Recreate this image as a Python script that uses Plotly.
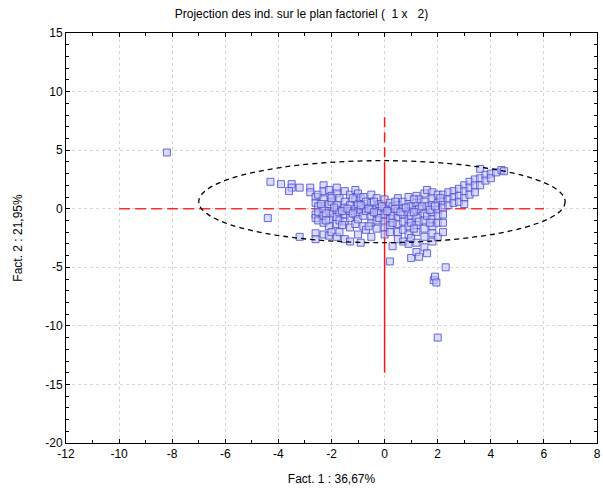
import plotly.graph_objects as go

# ---- data ----
pts = [
    (-8.2, 4.8), (-4.4, -0.8), (-4.3, 2.3), (-3.9, 2.1), (-3.5, 2.1), (-3.5, 1.8),
    (-3.6, 1.5), (-3.2, 1.8), (-3.2, -2.4), (-2.8, 1.8), (-2.8, 1.4),
    (-2.6, 1.0), (-2.6, 0.5), (-2.6, -0.5), (-2.6, -0.8), (-2.6, -2.1), (-2.6, -2.6),
    (-2.5, 0.2), (-2.5, -0.3), (-2.5, 1.2), (-2.5, -1.0),
    (-2.3, 2.0), (-2.3, 1.5), (-2.3, 0.8), (-2.3, 0.0), (-2.3, -0.6), (-2.3, -1.2), (-2.3, -2.2),
    (-2.1, 1.6), (-2.1, 0.4), (-2.1, -0.2), (-2.1, -0.9), (-2.1, -1.5), (-2.1, -2.3),
    (-2.0, 1.1), (-2.0, 0.6), (-2.0, -0.4), (-2.0, -2.0),
    (-1.8, 1.8), (-1.8, 1.3), (-1.8, 0.3), (-1.8, -0.1), (-1.8, -0.7), (-1.8, -1.3), (-1.8, -2.4),
    (-1.7, 0.9), (-1.7, -0.3), (-1.7, -2.0), (-1.7, -1.0),
    (-1.5, 1.5), (-1.5, 0.6), (-1.5, 0.1), (-1.5, -0.5), (-1.5, -1.1), (-1.5, -2.6),
    (-1.3, 1.2), (-1.3, 0.3), (-1.3, -0.2), (-1.3, -0.8), (-1.3, -1.6), (-1.3, -2.8),
    (-1.1, 1.6), (-1.1, 0.8), (-1.1, 0.0), (-1.1, -0.5), (-1.1, -1.3),
    (-1.0, 1.3), (-1.0, 0.4), (-1.0, -0.3), (-1.0, -0.9), (-1.0, -2.2),
    (-0.9, -2.9), (-0.9, 0.9), (-0.9, -0.1),
    (-0.8, 1.0), (-0.8, 0.2), (-0.8, -0.6), (-0.8, -1.5),
    (-0.7, -1.8), (-0.7, 0.6), (-0.7, -0.2),
    (-0.5, 1.2), (-0.5, 0.5), (-0.5, -0.1), (-0.5, -0.7), (-0.5, -1.2), (-0.5, -2.4),
    (-0.3, 0.9), (-0.3, 0.1), (-0.3, -0.4), (-0.3, -1.0), (-0.3, -1.7),
    (-0.2, 0.4), (-0.2, -0.2), (-0.2, -0.8),
    (0.0, 0.8), (0.0, 0.0), (0.0, -0.5), (0.0, -1.1), (0.0, -1.6), (0.0, -2.2),
    (0.2, -4.5), (0.2, 0.5), (0.2, -0.3), (0.2, -0.9), (0.2, -1.4), (0.2, -2.0),
    (0.3, -3.2), (0.3, 0.2), (0.3, -0.6),
    (0.5, 0.9), (0.5, 0.3), (0.5, -0.2), (0.5, -0.8), (0.5, -1.3), (0.5, -2.0), (0.5, -2.6),
    (0.7, 0.6), (0.7, 0.0), (0.7, -0.5), (0.7, -1.1), (0.7, -1.8), (0.7, -2.8),
    (0.9, 1.0), (0.9, 0.4), (0.9, -0.3), (0.9, -0.9), (0.9, -1.5), (0.9, -2.2), (0.9, -3.0),
    (1.0, -4.2), (1.0, 0.2), (1.0, -0.6), (1.0, -1.2), (1.0, -2.5),
    (1.2, 1.1), (1.2, 0.5), (1.2, -0.1), (1.2, -0.8), (1.2, -1.4), (1.2, -2.0), (1.2, -3.7), (1.2, -2.9),
    (1.3, -4.1), (1.3, 0.8), (1.3, 0.0), (1.3, -1.1),
    (1.5, 1.3), (1.5, 0.6), (1.5, -0.4), (1.5, -1.0), (1.5, -1.7), (1.5, -2.4), (1.5, -3.3),
    (1.6, -3.8), (1.6, 0.2), (1.6, -0.6), (1.6, 1.6),
    (1.8, 1.4), (1.8, 0.9), (1.8, 0.3), (1.8, -0.3), (1.8, -0.9), (1.8, -1.5), (1.8, -2.1), (1.8, -2.8),
    (1.85, -6.1), (1.9, -5.8), (1.95, -6.3),
    (2.0, -11.0), (2.0, 1.2), (2.0, 0.5), (2.0, -0.1), (2.0, -0.6), (2.0, -1.2), (2.0, -2.4),
    (2.2, 1.2), (2.2, 0.6), (2.2, 0.1), (2.2, -0.5), (2.2, -1.2), (2.2, -2.0),
    (2.3, -5.0),
    (2.4, 1.4), (2.4, 0.8), (2.4, 0.3),
    (2.6, 1.5), (2.6, 1.0), (2.6, 0.5),
    (2.8, 1.7), (2.8, 1.1), (2.8, 0.6),
    (3.0, 2.0), (3.0, 1.5), (3.0, 0.9), (3.0, 0.4),
    (3.2, 2.3), (3.2, 1.8), (3.2, 1.2),
    (3.4, 2.5), (3.4, 2.0), (3.4, 1.4),
    (3.6, 3.4), (3.6, 2.6), (3.6, 2.0),
    (3.8, 2.9), (3.8, 2.4),
    (4.0, 3.0), (4.0, 2.6),
    (4.2, 3.1), (4.4, 3.3), (4.5, 3.2),
    # extra points in the dense core
    (-2.4, 0.4), (-2.2, -0.4), (-1.9, 0.1), (-1.6, -0.2), (-1.4, 0.0), (-1.2, -0.4),
    (-0.9, 0.3), (-0.6, 0.0), (-0.4, -0.3), (-0.1, 0.2), (0.1, -0.2), (0.4, 0.0),
    (0.6, -0.3), (0.8, 0.1), (1.1, -0.3), (1.4, 0.2), (1.7, -0.1), (1.9, 0.2),
    (-2.2, -1.0), (-1.6, -1.4), (-0.6, -1.5), (0.3, -1.2), (1.1, -1.7), (1.7, -1.2),
    (-2.0, 0.9), (-1.2, 0.9), (-0.4, 0.6), (0.4, 0.6), (1.1, 0.8), (2.1, 0.9),
]
fact1 = [p[0] for p in pts]
fact2 = [p[1] for p in pts]

# reference cross (red dashed lines)
cross_h_x = [-10, 6]
cross_v_y_dash = [7.8, 4.0]
cross_v_y_solid = [4.0, -14.0]

# ellipse (center, semi axes)
ell_cx, ell_cy = -0.1, 0.6
ell_a, ell_b = 6.9, 3.5

x_range = [-12, 8]
y_range = [-20, 15]
x_ticks = [-12, -10, -8, -6, -4, -2, 0, 2, 4, 6, 8]
y_ticks = [-20, -15, -10, -5, 0, 5, 10, 15]

fig = go.Figure()

fig.add_trace(go.Scatter(
    x=cross_h_x, y=[0, 0], mode="lines",
    line=dict(color="rgba(255,0,0,0.8)", width=1.5, dash="11px,5px"),
    hoverinfo="skip", showlegend=False))
fig.add_trace(go.Scatter(
    x=[0, 0], y=cross_v_y_dash, mode="lines",
    line=dict(color="rgba(255,0,0,0.9)", width=1.5, dash="10px,5px"),
    hoverinfo="skip", showlegend=False))
fig.add_trace(go.Scatter(
    x=[0, 0], y=cross_v_y_solid, mode="lines",
    line=dict(color="rgba(255,0,0,0.9)", width=1.5),
    hoverinfo="skip", showlegend=False))

fig.add_trace(go.Scatter(
    x=fact1, y=fact2, mode="markers",
    marker=dict(symbol="square", size=7,
                color="rgba(195,195,250,0.6)",
                line=dict(color="rgba(80,80,210,0.85)", width=1)),
    showlegend=False))

fig.add_shape(type="circle", xref="x", yref="y",
              x0=ell_cx - ell_a, x1=ell_cx + ell_a,
              y0=ell_cy - ell_b, y1=ell_cy + ell_b,
              line=dict(color="black", width=1.3, dash="5px,4px"))

font = dict(family="Liberation Sans, Arial", size=12, color="black")
axis_common = dict(
    showline=True, linecolor="black", linewidth=1, mirror="ticks",
    ticks="inside", ticklen=4, tickcolor="black",
    showgrid=True, gridcolor="#d6d6d6", griddash="dot", gridwidth=1,
    zeroline=False, automargin=False, tickfont=font,
)

fig.update_xaxes(range=x_range, tickmode="array", tickvals=x_ticks,
                 ticktext=[str(v) for v in x_ticks],
                 minor=dict(dtick=1, tick0=0, ticks="inside", ticklen=3, tickcolor="black", showgrid=False),
                 title=dict(text="Fact. 1 : 36,67%", standoff=14, font=font),
                 **axis_common)
fig.update_yaxes(range=y_range, tickmode="array", tickvals=y_ticks,
                 ticktext=[str(v) for v in y_ticks],
                 minor=dict(dtick=1, tick0=0, ticks="inside", ticklen=3, tickcolor="black", showgrid=False),
                 title=dict(text="Fact. 2 : 21,95%", standoff=20, font=font),
                 **axis_common)

fig.update_layout(
    width=603, height=493,
    margin=dict(l=66, r=6, t=33, b=50, autoexpand=False),
    paper_bgcolor="white", plot_bgcolor="white",
    title=dict(text="Projection des ind. sur le plan factoriel (  1 x   2)",
               x=0.5, xanchor="center", y=0.972, yanchor="middle",
               font=font),
    showlegend=False,
)

fig.write_html("out.html",
               config={"displayModeBar": False},
               post_script="document.body.style.margin='0px';document.body.style.overflow='hidden';")
